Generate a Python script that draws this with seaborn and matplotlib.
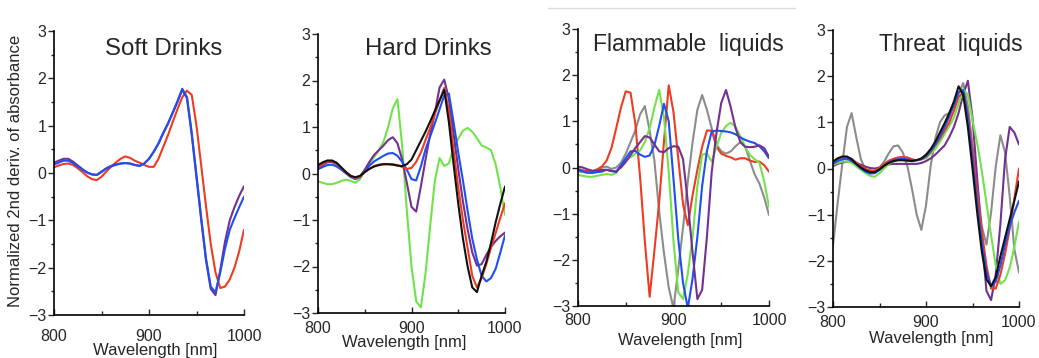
import pandas as pd
import matplotlib
matplotlib.use('Agg')
from matplotlib import pyplot as plt
from matplotlib.ticker import MultipleLocator
from matplotlib.lines import Line2D
import seaborn as sns

sns.set_style('ticks')
plt.rcParams['font.family'] = ['Liberation Sans', 'DejaVu Sans']

W, H = 1039, 358

# wavelength grid of the spectra (nm)
wavelength = list(range(800, 1001, 5))

# --- Soft drinks ---
soft_red = [0.12, 0.16, 0.19, 0.2, 0.17, 0.1, 0.02, -0.07, -0.13, -0.15, -0.08, 0.03, 0.13, 0.22, 0.3, 0.35, 0.32, 0.26, 0.22, 0.17,
            0.13, 0.13, 0.3, 0.55, 0.8, 1.08, 1.35, 1.6, 1.74, 1.65, 1.0, 0.15, -0.7, -1.5, -2.1, -2.43, -2.4, -2.25, -2.0, -1.65, -1.2]
soft_purple = [0.22, 0.26, 0.3, 0.3, 0.24, 0.16, 0.08, 0.01, -0.03, -0.04, 0.03, 0.1, 0.15, 0.18, 0.2, 0.21, 0.2, 0.17, 0.15, 0.2,
               0.3, 0.45, 0.62, 0.84, 1.04, 1.27, 1.5, 1.76, 1.58, 0.8, -0.1, -1.0, -1.85, -2.45, -2.58, -2.05, -1.45, -1.0, -0.72, -0.48, -0.28]
soft_blue = [0.18, 0.22, 0.26, 0.26, 0.21, 0.14, 0.07, 0.01, -0.03, -0.04, 0.02, 0.09, 0.14, 0.17, 0.2, 0.21, 0.2, 0.17, 0.15, 0.2,
             0.3, 0.45, 0.63, 0.85, 1.05, 1.28, 1.52, 1.78, 1.6, 0.85, -0.05, -0.95, -1.8, -2.4, -2.52, -2.1, -1.6, -1.2, -0.95, -0.72, -0.5]

# --- Hard drinks ---
hard_green = [-0.17, -0.2, -0.23, -0.23, -0.2, -0.16, -0.13, -0.16, -0.2, -0.12, 0.07, 0.22, 0.35, 0.5, 0.68, 1.0, 1.4, 1.6, 0.6, -0.8,
              -2.0, -2.75, -2.88, -2.15, -1.12, -0.15, 0.33, 0.16, 0.22, 0.55, 0.75, 0.92, 0.98, 0.9, 0.76, 0.6, 0.56, 0.5, 0.2, -0.3, -0.89]
hard_purple = [0.12, 0.18, 0.24, 0.25, 0.2, 0.1, 0.02, -0.06, -0.1, -0.06, 0.08, 0.25, 0.4, 0.5, 0.6, 0.72, 0.78, 0.65, 0.3, -0.2,
               -0.72, -0.82, -0.28, 0.3, 0.85, 1.3, 1.85, 2.02, 1.6, 0.85, 0.1, -0.6, -1.2, -1.7, -1.98, -1.95, -1.75, -1.58, -1.45, -1.35, -1.27]
hard_blue = [0.09, 0.14, 0.18, 0.19, 0.15, 0.08, 0.0, -0.08, -0.12, -0.08, 0.05, 0.17, 0.26, 0.32, 0.38, 0.43, 0.44, 0.38, 0.25, 0.08,
             -0.12, -0.15, 0.15, 0.52, 0.8, 1.08, 1.38, 1.68, 1.72, 1.1, 0.45, -0.15, -0.8, -1.4, -1.85, -2.2, -2.32, -2.25, -2.05, -1.7, -1.33]
hard_red = [0.14, 0.2, 0.26, 0.27, 0.22, 0.12, 0.02, -0.06, -0.1, -0.07, 0.03, 0.1, 0.16, 0.19, 0.2, 0.2, 0.2, 0.18, 0.14, 0.1,
            0.12, 0.25, 0.45, 0.72, 0.98, 1.28, 1.56, 1.84, 1.35, 0.5, -0.3, -1.0, -1.6, -2.2, -2.45, -2.25, -1.95, -1.6, -1.28, -0.95, -0.64]
hard_black = [0.18, 0.24, 0.28, 0.28, 0.23, 0.13, 0.03, -0.05, -0.08, -0.05, 0.03, 0.1, 0.15, 0.18, 0.2, 0.2, 0.19, 0.17, 0.16, 0.2,
              0.3, 0.5, 0.7, 0.9, 1.12, 1.35, 1.57, 1.8, 1.1, 0.2, -0.65, -1.4, -2.0, -2.45, -2.55, -2.2, -1.9, -1.5, -1.05, -0.65, -0.28]

# --- Flammable liquids ---
flam_gray = [-0.08, -0.1, -0.12, -0.1, -0.05, 0.0, 0.02, -0.03, 0.0, 0.1, 0.3, 0.55, 0.8, 1.15, 1.33, 0.8, 0.15, -0.95, -1.85, -2.6,
             -3.05, -2.2, -1.3, -0.3, 0.55, 1.25, 1.57, 1.25, 0.85, 0.5, 0.35, 0.3, 0.35, 0.46, 0.55, 0.45, 0.15, -0.15, -0.35, -0.65, -1.03]
flam_red = [-0.03, -0.06, -0.08, -0.08, -0.04, 0.02, 0.15, 0.42, 0.85, 1.3, 1.65, 1.62, 0.95, -0.2, -1.6, -2.8, -1.8, -0.75, 0.56, 1.78,
            1.2, 0.2, -0.8, -1.25, -0.6, -0.05, 0.45, 0.8, 0.8, 0.45, 0.3, 0.25, 0.22, 0.17, 0.2, 0.2, 0.15, 0.12, 0.13, 0.05, -0.09]
flam_green = [-0.16, -0.18, -0.2, -0.2, -0.18, -0.16, -0.14, -0.16, -0.12, 0.05, 0.15, 0.22, 0.3, 0.37, 0.55, 0.85, 1.3, 1.68, 1.1, -0.1,
              -1.6, -2.7, -2.85, -2.3, -1.5, -0.4, 0.28, 0.3, 0.13, 0.45, 0.75, 0.9, 0.97, 0.88, 0.68, 0.45, 0.27, 0.18, 0.1, -0.3, -0.85]
flam_blue = [-0.05, -0.08, -0.11, -0.12, -0.1, -0.09, -0.05, -0.07, -0.1, 0.05, 0.2, 0.35, 0.36, 0.28, 0.23, 0.26, 0.48, 0.9, 1.38, 1.0,
             -0.25, -1.55, -2.5, -3.05, -2.4, -1.5, -0.4, 0.36, 0.78, 0.8, 0.79, 0.78, 0.76, 0.72, 0.65, 0.6, 0.56, 0.53, 0.46, 0.35, 0.2]
flam_purple = [0.02, 0.0, -0.04, -0.07, -0.07, -0.05, -0.05, -0.08, -0.08, 0.0, 0.12, 0.27, 0.42, 0.55, 0.68, 0.65, 0.5, 0.35, 0.33, 0.42,
               0.46, 0.45, 0.18, -0.75, -1.85, -2.85, -2.65, -1.5, -0.1, 0.75, 1.4, 1.68, 1.3, 0.85, 0.55, 0.45, 0.44, 0.45, 0.48, 0.42, 0.23]

# --- Threat liquids ---
thr_gray = [-1.66, -0.75, 0.1, 0.9, 1.2, 0.68, 0.2, -0.03, -0.07, -0.05, 0.02, 0.15, 0.33, 0.48, 0.5, 0.35, 0.05, -0.45, -1.0, -1.33,
            -0.8, 0.05, 0.65, 1.0, 1.15, 1.2, 1.35, 1.62, 1.85, 1.35, 0.5, -0.35, -1.25, -1.65, -0.95, 0.05, 0.72, 0.35, -0.6, -1.75, -2.25]
thr_purple = [0.05, 0.1, 0.13, 0.15, 0.14, 0.12, 0.08, 0.04, 0.01, 0.0, 0.02, 0.06, 0.09, 0.1, 0.1, 0.1, 0.1, 0.1, 0.1, 0.12,
              0.16, 0.22, 0.3, 0.4, 0.5, 0.68, 0.9, 1.2, 1.6, 1.9, 1.1, -0.2, -1.5, -2.65, -2.85, -2.3, -1.2, 0.2, 0.9, 0.78, 0.52]
thr_green = [0.08, 0.12, 0.15, 0.15, 0.12, 0.05, -0.03, -0.1, -0.16, -0.18, -0.1, 0.0, 0.1, 0.15, 0.18, 0.18, 0.17, 0.17, 0.18, 0.2,
             0.22, 0.32, 0.42, 0.58, 0.75, 0.92, 1.1, 1.4, 1.72, 1.6, 1.05, 0.55, -0.05, -0.75, -1.45, -2.1, -2.5, -2.42, -2.15, -1.7, -1.15]
thr_red = [0.15, 0.2, 0.24, 0.25, 0.21, 0.13, 0.05, -0.01, -0.04, -0.05, 0.02, 0.1, 0.17, 0.21, 0.24, 0.25, 0.24, 0.2, 0.18, 0.2,
           0.25, 0.36, 0.5, 0.65, 0.82, 1.0, 1.25, 1.55, 1.65, 1.2, 0.4, -0.5, -1.35, -2.1, -2.6, -2.6, -2.3, -1.85, -1.3, -0.65, 0.0]
thr_blue = [0.1, 0.16, 0.2, 0.21, 0.17, 0.09, 0.0, -0.07, -0.11, -0.1, -0.03, 0.06, 0.13, 0.18, 0.2, 0.21, 0.2, 0.18, 0.18, 0.2,
            0.27, 0.38, 0.52, 0.7, 0.9, 1.12, 1.38, 1.65, 1.7, 1.1, 0.2, -0.75, -1.6, -2.25, -2.55, -2.45, -2.1, -1.65, -1.25, -0.95, -0.7]
thr_black = [0.15, 0.22, 0.26, 0.26, 0.2, 0.1, 0.02, -0.04, -0.08, -0.08, -0.02, 0.06, 0.12, 0.16, 0.18, 0.18, 0.17, 0.16, 0.18, 0.22,
             0.3, 0.42, 0.58, 0.78, 0.98, 1.2, 1.45, 1.78, 1.6, 0.9, 0.0, -0.95, -1.8, -2.4, -2.55, -2.35, -1.9, -1.5, -1.1, -0.7, -0.28]

palette = {'red': '#ee3b22', 'blue': '#1f4ff0', 'green': '#72e24c',
           'purple': '#74308f', 'black': '#111111', 'gray': '#8c8c8c'}

panels = [
    ('Soft Drinks', [('red', soft_red), ('purple', soft_purple), ('blue', soft_blue)]),
    ('Hard Drinks', [('green', hard_green), ('purple', hard_purple), ('blue', hard_blue),
                     ('red', hard_red), ('black', hard_black)]),
    ('Flammable  liquids', [('gray', flam_gray), ('red', flam_red), ('green', flam_green),
                            ('blue', flam_blue), ('purple', flam_purple)]),
    ('Threat  liquids', [('gray', thr_gray), ('purple', thr_purple), ('green', thr_green),
                         ('red', thr_red), ('blue', thr_blue), ('black', thr_black)]),
]

# axes boxes in pixels: left, right, top, bottom
boxes = [(54, 244, 31, 315), (318, 505, 34, 313), (578, 769, 29, 306), (833, 1019, 30, 307)]
title_pos = [(164, 49), (428, 49), (688, 44), (951, 45)]
title_size = [17.3, 17.3, 16.5, 16.5]
xlabel_pos = [(155, 350), (404, 342), (680, 340), (931, 339)]
xpads = [10, 6, 5, 6]

fig = plt.figure(figsize=(W / 100, H / 100), dpi=100)

for i, (title, curves) in enumerate(panels):
    l, r, t, b = boxes[i]
    ax = fig.add_axes([l / W, 1 - b / H, (r - l) / W, (b - t) / H])
    rows = []
    for name, vals in curves:
        for w, v in zip(wavelength, vals):
            rows.append((w, v, name))
    df = pd.DataFrame(rows, columns=['wl', 'val', 'sample'])
    sns.lineplot(data=df, x='wl', y='val', hue='sample', hue_order=[c[0] for c in curves],
                 palette=palette, legend=False, ax=ax, linewidth=1.5, estimator=None)
    ax.set_xlim(800, 1000)
    ax.set_ylim(-3, 3)
    ax.set_xticks([800, 900, 1000])
    ax.xaxis.set_minor_locator(MultipleLocator(50))
    ax.set_yticks(range(-3, 4))
    ax.yaxis.set_minor_locator(MultipleLocator(0.5))
    ax.set_xlabel('')
    ax.set_ylabel('')
    sns.despine(ax=ax)
    for s in ['left', 'bottom']:
        ax.spines[s].set_linewidth(1.2)
        ax.spines[s].set_color('black')
    ax.tick_params(axis='x', which='major', direction='in', length=4, width=1, pad=xpads[i], labelsize=11.5)
    ax.tick_params(axis='x', which='minor', direction='in', length=3, width=1)
    ax.tick_params(axis='y', which='major', direction='out', length=4, width=1, pad=1.5, labelsize=11.5)
    ax.tick_params(axis='y', which='minor', direction='out', length=2.5, width=1)
    tx, ty = title_pos[i]
    fig.text(tx / W, 1 - ty / H, title, fontsize=title_size[i], ha='center', va='center')
    lx, ly = xlabel_pos[i]
    fig.text(lx / W, 1 - ly / H, 'Wavelength [nm]', fontsize=12, ha='center', va='center')

fig.text(16 / W, 1 - 171 / H, 'Normalized 2nd deriv. of absorbance', fontsize=12,
         rotation=90, ha='center', va='center')
fig.add_artist(Line2D([548 / W, 795 / W], [1 - 8 / H, 1 - 8 / H], color='#dcdcdc', lw=1))

fig.savefig('out.png', dpi=100)
